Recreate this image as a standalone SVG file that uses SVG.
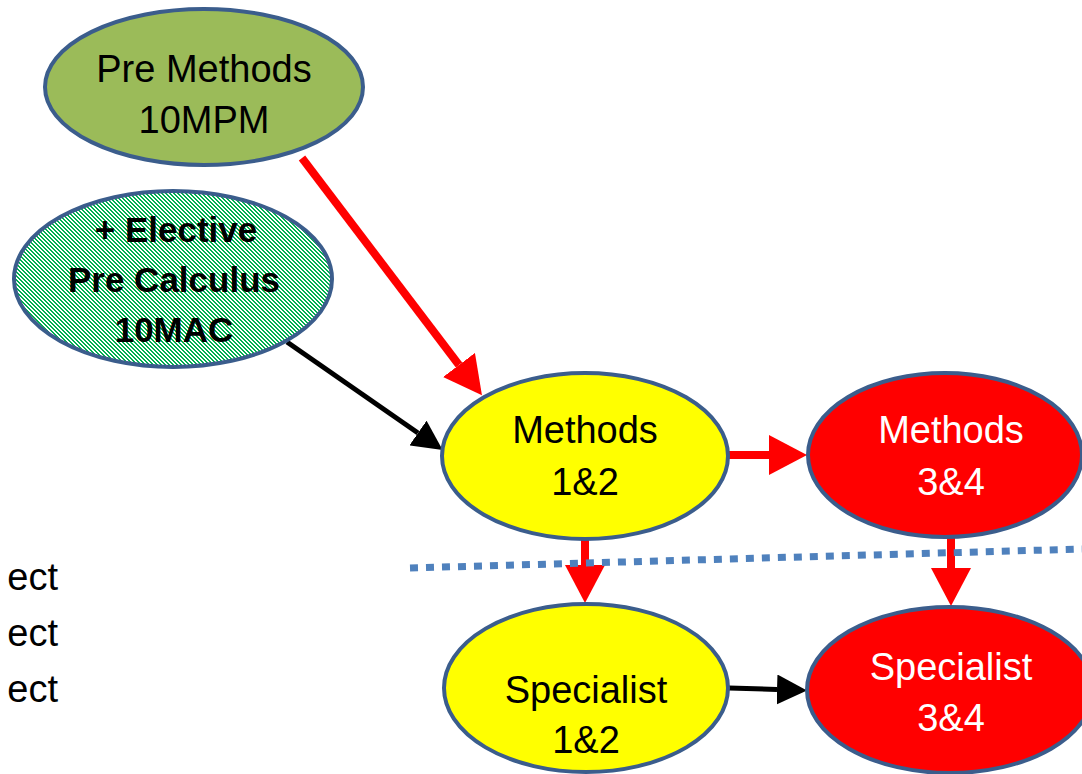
<svg xmlns="http://www.w3.org/2000/svg" width="1082" height="774" viewBox="0 0 1082 774">
  <style>
    .node { stroke: #3B5D8C; stroke-width: 4; }
    .lbl { font-family: "Liberation Sans", Arial, sans-serif; font-size: 38px; text-anchor: middle; fill: #000; }
    .bold { font-weight: bold; font-size: 35px; }
    .white { fill: #fff; }
    .red { stroke: #FF0000; stroke-width: 8; fill: none; }
    .blk { stroke: #000; stroke-width: 5; fill: none; }
    .side { font-family: "Liberation Sans", Arial, sans-serif; font-size: 38px; text-anchor: end; fill: #000; }
  </style>
  <defs>
    <pattern id="stripes" x="0" y="0" width="4" height="4" patternUnits="userSpaceOnUse">
      <g shape-rendering="crispEdges">
        <rect width="4" height="4" fill="#ffffff"/>
        <rect x="0" y="0" width="2" height="1" fill="#00B050"/>
        <rect x="1" y="1" width="2" height="1" fill="#00B050"/>
        <rect x="2" y="2" width="2" height="1" fill="#00B050"/>
        <rect x="3" y="3" width="1" height="1" fill="#00B050"/>
        <rect x="0" y="3" width="1" height="1" fill="#00B050"/>
      </g>
    </pattern>
    <marker id="redHead" viewBox="0 0 38 40" refX="0" refY="20" markerWidth="38" markerHeight="40" markerUnits="userSpaceOnUse" orient="auto">
      <path d="M0,0 L38,20 L0,40 z" fill="#FF0000"/>
    </marker>
    <marker id="blkHead" viewBox="0 0 30 30" refX="0" refY="15" markerWidth="30" markerHeight="30" markerUnits="userSpaceOnUse" orient="auto">
      <path d="M0,0 L30,15 L0,30 z" fill="#000"/>
    </marker>
  </defs>

  <rect width="1082" height="774" fill="#ffffff"/>

  <g id="side-text">
    <text class="side" x="58" y="590">ect</text>
    <text class="side" x="58" y="646">ect</text>
    <text class="side" x="58" y="702">ect</text>
  </g>

  <g id="connectors">
    <line class="red" x1="302" y1="158" x2="459" y2="365" marker-end="url(#redHead)"/>
    <line class="blk" x1="287" y1="342" x2="418" y2="433" marker-end="url(#blkHead)"/>
    <line class="red" x1="729" y1="455" x2="769" y2="455" marker-end="url(#redHead)"/>
    <line class="red" x1="585" y1="540" x2="585" y2="565" marker-end="url(#redHead)"/>
    <line class="red" x1="951" y1="537" x2="951" y2="568" marker-end="url(#redHead)"/>
    <line class="blk" x1="729" y1="688" x2="777" y2="689.5" marker-end="url(#blkHead)"/>
  </g>

  <g id="pre-methods">
    <ellipse class="node" cx="204" cy="87" rx="159" ry="78" fill="#9BBB59"/>
    <text class="lbl" x="204" y="82">Pre Methods</text>
    <text class="lbl" x="204" y="133">10MPM</text>
  </g>

  <g id="elective">
    <ellipse class="node" cx="173" cy="279" rx="159" ry="88" fill="url(#stripes)"/>
    <text class="lbl bold" x="176" y="242">+ Elective</text>
    <text class="lbl bold" x="174" y="292">Pre Calculus</text>
    <text class="lbl bold" x="174" y="342">10MAC</text>
  </g>

  <g id="methods12">
    <ellipse class="node" cx="585" cy="456" rx="143" ry="83" fill="#FFFF00"/>
    <text class="lbl" x="585" y="443">Methods</text>
    <text class="lbl" x="585" y="495">1&amp;2</text>
  </g>

  <g id="methods34">
    <ellipse class="node" cx="945" cy="455" rx="137" ry="82" fill="#FF0000"/>
    <text class="lbl white" x="951" y="443">Methods</text>
    <text class="lbl white" x="951" y="495">3&amp;4</text>
  </g>

  <g id="specialist12">
    <ellipse class="node" cx="586" cy="688" rx="142" ry="84" fill="#FFFF00"/>
    <text class="lbl" x="586" y="703">Specialist</text>
    <text class="lbl" x="586" y="753">1&amp;2</text>
  </g>

  <g id="specialist34">
    <ellipse class="node" cx="950" cy="690" rx="143" ry="83" fill="#FF0000"/>
    <text class="lbl white" x="951" y="680">Specialist</text>
    <text class="lbl white" x="951" y="731">3&amp;4</text>
  </g>

  <g id="divider">
    <line x1="410" y1="568" x2="1082" y2="549" stroke="#4F81BD" stroke-width="7" stroke-dasharray="8 8"/>
  </g>
</svg>
